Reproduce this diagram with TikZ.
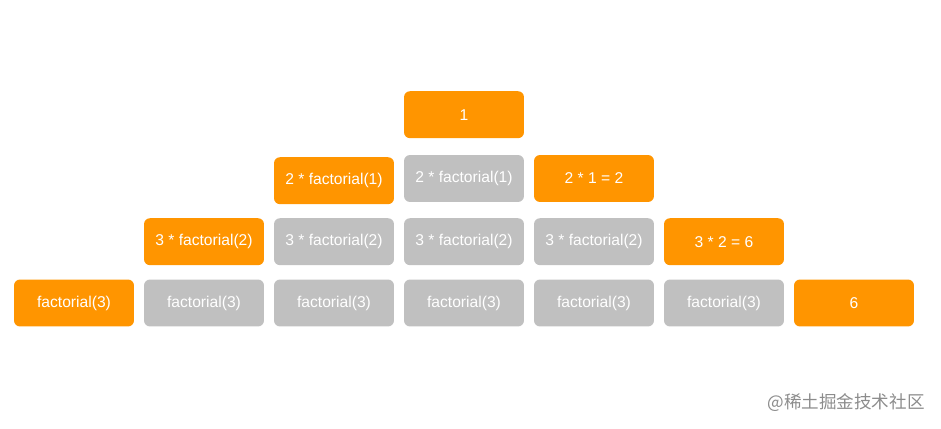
\documentclass[tikz,border=0pt]{standalone}
\usepackage{fontspec}
\setmainfont{Liberation Sans}
\newfontfamily\cjk{Noto Sans CJK SC}
\usepackage{xcolor}
\definecolor{callorange}{HTML}{FF9500}
\definecolor{callgray}{HTML}{C0C0C0}
\definecolor{markgray}{HTML}{8C8C8C}
\usetikzlibrary{positioning}

\begin{document}
\begin{tikzpicture}[x=0.02cm, y=-0.02cm,
  frame/.style={minimum width=2.4cm, minimum height=0.94cm, rounded corners=0.12cm, inner sep=0pt, text=white, font=\fontsize{8.9}{10}\selectfont},
  active/.style={frame, fill=callorange},
  waiting/.style={frame, fill=callgray}]
  \useasboundingbox (0,0) rectangle (941,429);
  % top of the stack
  \node[active] (top) at (464,114.7) {1};
  % second level
  \node[active] (fa) at (334,180.7) {2 * factorial(1)};
  \node[waiting] (fb) at (464,178.5) {2 * factorial(1)};
  \node[active] (fc) at (594,178.5) {2 * 1 = 2};
  % third level
  \node[active] (ga) at (204,241.7) {3 * factorial(2)};
  \node[waiting] (gb) at (334,241.7) {3 * factorial(2)};
  \node[waiting] (gc) at (464,241.7) {3 * factorial(2)};
  \node[waiting] (gd) at (594,241.7) {3 * factorial(2)};
  \node[active] (ge) at (724,241.7) {3 * 2 = 6};
  % bottom level
  \node[active] (ha) at (74,303) {factorial(3)};
  \node[waiting] (hb) at (204,303) {factorial(3)};
  \node[waiting] (hc) at (334,303) {factorial(3)};
  \node[waiting] (hd) at (464,303) {factorial(3)};
  \node[waiting] (he) at (594,303) {factorial(3)};
  \node[waiting] (hf) at (724,303) {factorial(3)};
  \node[active] (hg) at (854,303) {6};
  % watermark
  \node[anchor=east, inner sep=0pt, text=markgray, font=\cjk\fontsize{10}{12}\selectfont] (mark) at (925,403) {@稀土掘金技术社区};
\end{tikzpicture}
\end{document}
